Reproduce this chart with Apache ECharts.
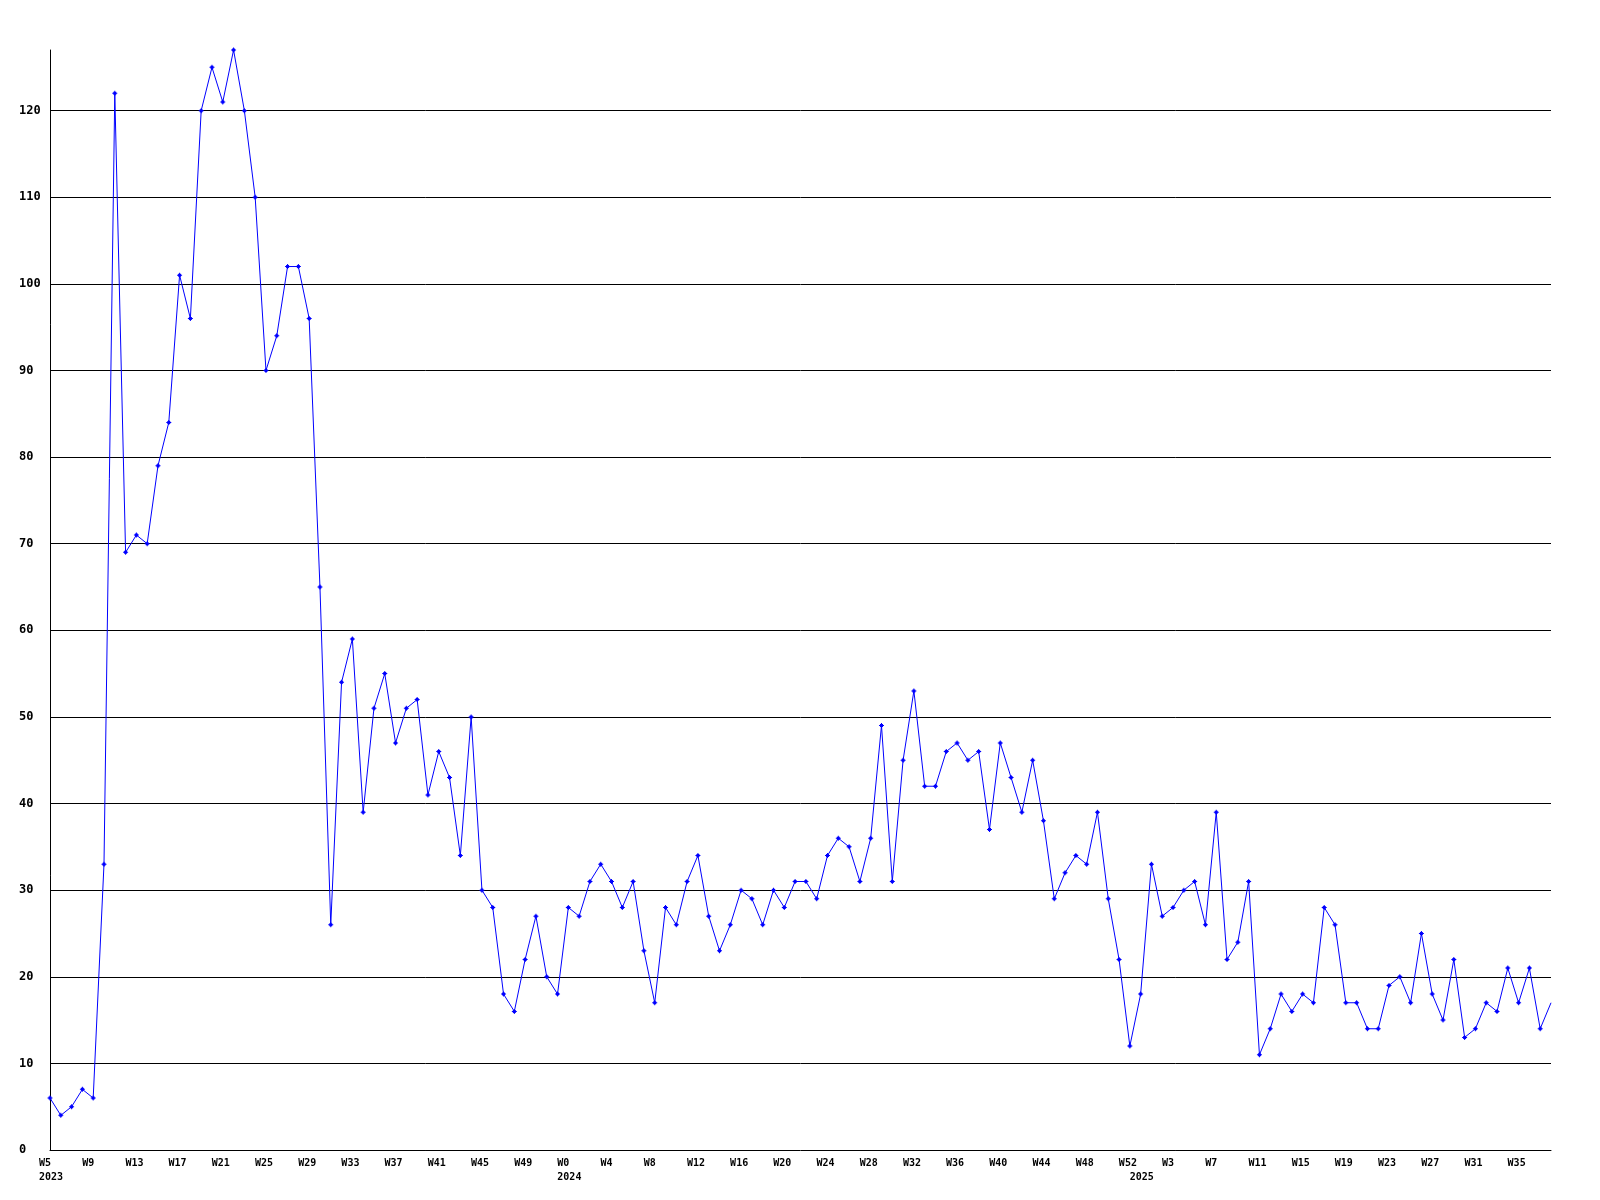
<!DOCTYPE html>
<html>
<head>
<meta charset="utf-8">
<title>weekly counts</title>
<script src="https://cdn.jsdelivr.net/npm/echarts@6/dist/echarts.min.js"></script>
<style>
  html, body { margin: 0; padding: 0; background: #fff; }
  #chart { width: 1600px; height: 1200px; }
</style>
</head>
<body>
<div id="chart"></div>
<script>
// [year, first week, last week] shown on the axis
const yearWeeks = [[2023, 5, 52], [2024, 0, 52], [2025, 0, 38]];

// one value per week, in order
const counts = [
  6, 4, 5, 7, 6, 33, 122, 69, 71, 70, 79, 84, 101, 96, 120, 125, 121, 127, 120, 110,
  90, 94, 102, 102, 96, 65, 26, 54, 59, 39, 51, 55, 47, 51, 52, 41, 46, 43, 34, 50,
  30, 28, 18, 16, 22, 27, 20, 18,
  28, 27, 31, 33, 31, 28, 31, 23, 17, 28, 26, 31, 34, 27, 23, 26, 30, 29, 26, 30,
  28, 31, 31, 29, 34, 36, 35, 31, 36, 49, 31, 45, 53, 42, 42, 46, 47, 45, 46, 37,
  47, 43, 39, 45, 38, 29, 32, 34, 33, 39, 29, 22, 12,
  18, 33, 27, 28, 30, 31, 26, 39, 22, 24, 31, 11, 14, 18, 16, 18, 17, 28, 26, 17,
  17, 14, 14, 19, 20, 17, 25, 18, 15, 22, 13, 14, 17, 16, 21, 17, 21, 14, 17
];

// category keys "2023-W5" ... and the indexes where a year starts
const weekKeys = [];
const yearStart = {};
yearWeeks.forEach(([y, a, b]) => {
  yearStart[weekKeys.length] = true;
  for (let w = a; w <= b; w++) weekKeys.push(y + '-W' + w);
});

const yFont = {
  fontFamily: 'DejaVu Sans Mono',
  fontWeight: 'bold',
  fontSize: 12,
  color: '#000'
};
const xFont = {
  fontFamily: 'DejaVu Sans Mono',
  fontWeight: 'bold',
  fontSize: 10,
  color: '#000'
};
const plus = 'path://M2,0h1v1h1v1h1v1h-1v1h-1v1h-1v-1h-1v-1h-1v-1h1v-1h1z';

let myChart = echarts.init(document.getElementById('chart'));
let option = {
  animation: false,
  backgroundColor: '#fff',
  grid: { left: 50, right: 49, top: 50, bottom: 50, containLabel: false },
  xAxis: [
    {
      type: 'category',
      data: weekKeys,
      boundaryGap: false,
      axisLine: { show: true, lineStyle: { color: '#000', width: 1 } },
      axisTick: { show: false },
      splitLine: { show: false },
      axisLabel: Object.assign({}, xFont, {
        interval: 3,
        align: 'left',
        padding: [0, 0, 0, -11],
        margin: 8.5,
        formatter: v => v.split('-')[1]
      })
    },
    {
      // year labels under the first week of each year
      type: 'category',
      position: 'bottom',
      data: weekKeys,
      boundaryGap: false,
      axisLine: { show: false },
      axisTick: { show: false },
      splitLine: { show: false },
      axisLabel: Object.assign({}, xFont, {
        interval: (i) => !!yearStart[i],
        align: 'left',
        padding: [0, 0, 0, -11],
        margin: 22,
        formatter: v => v.split('-')[0]
      })
    }
  ],
  yAxis: {
    type: 'value',
    min: 0,
    max: 'dataMax',
    interval: 10,
    axisLine: { show: true, lineStyle: { color: '#000', width: 1 } },
    axisTick: { show: false },
    splitLine: {
      show: true,
      showMinLine: false,
      showMaxLine: false,
      lineStyle: { color: '#000', width: 1 }
    },
    axisLabel: Object.assign({}, yFont, {
      align: 'left',
      margin: 31,
      showMaxLabel: false
    })
  },
  series: [
    {
      type: 'line',
      data: counts,
      symbol: (val, params) => params.dataIndex === counts.length - 1 ? 'none' : plus,
      symbolSize: 5,
      showAllSymbol: true,
      lineStyle: { color: '#0000ff', width: 1 },
      itemStyle: { color: '#0000ff' }
    }
  ]
};
myChart.setOption(option);
</script>
</body>
</html>
